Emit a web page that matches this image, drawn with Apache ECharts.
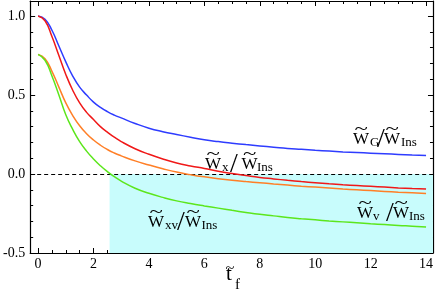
<!DOCTYPE html>
<html>
<head>
<meta charset="utf-8">
<script src="https://cdn.jsdelivr.net/npm/echarts@6/dist/echarts.min.js"></script>
<style>html,body{margin:0;padding:0;background:#fff;}#c{width:436px;height:296px;}</style>
</head>
<body>
<div id="c"></div>
<script>
// ---- data ----
var tValues = [0, 0.25, 0.5, 0.75, 1, 1.25, 1.5, 1.75, 2, 2.25, 2.5, 2.75, 3, 3.5, 4, 4.5, 5, 5.5, 6, 6.5, 7, 7.5, 8, 8.5, 9, 9.5, 10, 10.5, 11, 11.5, 12, 12.5, 13, 13.5, 14];
var wG  = [1.0, 0.98, 0.91, 0.81, 0.71, 0.62, 0.55, 0.50, 0.455, 0.422, 0.395, 0.373, 0.355, 0.32, 0.29, 0.268, 0.25, 0.233, 0.217, 0.205, 0.195, 0.186, 0.178, 0.17, 0.162, 0.156, 0.15, 0.145, 0.14, 0.136, 0.132, 0.128, 0.124, 0.12, 0.117];
var wX  = [1.0, 0.97, 0.87, 0.75, 0.63, 0.53, 0.45, 0.39, 0.345, 0.30, 0.265, 0.233, 0.205, 0.16, 0.125, 0.095, 0.07, 0.051, 0.035, 0.018, 0.003, -0.01, -0.022, -0.031, -0.04, -0.048, -0.055, -0.062, -0.068, -0.073, -0.078, -0.083, -0.088, -0.092, -0.095];
var wV  = [0.757, 0.73, 0.65, 0.55, 0.45, 0.37, 0.305, 0.255, 0.215, 0.182, 0.155, 0.133, 0.115, 0.083, 0.057, 0.033, 0.012, -0.004, -0.018, -0.03, -0.04, -0.048, -0.055, -0.063, -0.07, -0.077, -0.083, -0.089, -0.095, -0.1, -0.105, -0.11, -0.115, -0.119, -0.123];
var wXV = [0.757, 0.72, 0.62, 0.50, 0.375, 0.282, 0.205, 0.145, 0.095, 0.052, 0.015, -0.017, -0.045, -0.09, -0.122, -0.148, -0.17, -0.187, -0.202, -0.216, -0.23, -0.243, -0.255, -0.265, -0.275, -0.283, -0.29, -0.297, -0.303, -0.309, -0.315, -0.32, -0.326, -0.33, -0.335];
var shadeStart = 2.58;      // where W_xv crosses zero
var xMajor = [0, 2, 4, 6, 8, 10, 12, 14];
var xMajorLabels = ['0', '2', '4', '6', '8', '10', '12', '14'];
var xMinor = [0, 0.5, 1, 1.5, 2, 2.5, 3, 3.5, 4, 4.5, 5, 5.5, 6, 6.5, 7, 7.5, 8, 8.5, 9, 9.5, 10, 10.5, 11, 11.5, 12, 12.5, 13, 13.5, 14];
var yMajor = [-0.5, 0, 0.5, 1.0];
var yMajorLabels = ['-0.5', '0.0', '0.5', '1.0'];
var yMinor = [-0.5, -0.4, -0.3, -0.2, -0.1, 0, 0.1, 0.2, 0.3, 0.4, 0.5, 0.6, 0.7, 0.8, 0.9, 1.0];
var xMin = -0.286, xMax = 14.25, yMin = -0.5, yMax = 1.095;

// ---- chart ----
var FF = 'Liberation Serif';
function pairs(vals) { return tValues.map(function (t, i) { return [t, vals[i]]; }); }
function labelFrom(values, labels) { return function (v) { for (var i = 0; i < values.length; i++) { if (Math.abs(values[i] - v) < 1e-6) return labels[i]; } return ''; }; }

function xAx(pos, ticks, len, showLine, labels) {
  return {
    type: 'value', position: pos, min: xMin, max: xMax,
    axisLine: { show: showLine, onZero: false, lineStyle: { color: '#000', width: 1.2 } },
    axisTick: { show: true, inside: true, length: len, customValues: ticks, lineStyle: { color: '#000', width: 1 } },
    axisLabel: labels ? { show: true, customValues: xMajor, formatter: labelFrom(xMajor, xMajorLabels), fontFamily: FF, fontSize: 14, color: '#000', margin: 4 } : { show: false },
    splitLine: { show: false }
  };
}
function yAx(pos, ticks, len, showLine, labels) {
  return {
    type: 'value', position: pos, min: yMin, max: yMax,
    axisLine: { show: showLine, onZero: false, lineStyle: { color: '#000', width: 1.2 } },
    axisTick: { show: true, inside: true, length: len, customValues: ticks, lineStyle: { color: '#000', width: 1 } },
    axisLabel: labels ? { show: true, customValues: yMajor, formatter: labelFrom(yMajor, yMajorLabels), fontFamily: FF, fontSize: 14, color: '#000', margin: 5 } : { show: false },
    splitLine: { show: false }
  };
}

// annotation text pieces (real text)
function piece(text, x, baseline, size, extra) {
  var el = { type: 'text', x: x, y: baseline - 0.3375 * size, silent: true, z: 50,
    style: { text: text, fontFamily: FF, fontSize: size, fill: '#000', align: 'left', verticalAlign: 'middle' } };
  if (extra) { for (var k in extra) el[k] = extra[k]; }
  return el;
}
function wTilde(x, b) {
  return [piece('W', x, b, 17), piece('~', x + 1.5, b - 9.5, 17, { scaleX: 1.45 })];
}
function ratioLabel(b, xW, sub, xSub, xSl, xW2, xIns) {
  return [].concat(
    wTilde(xW, b), [piece(sub, xSub, b + 2, 13), piece('/', xSl, b + 4, 28)],
    wTilde(xW2, b), [piece('Ins', xIns, b + 2, 13)]
  );
}
var graphics = [].concat(
  ratioLabel(145, 353, 'G', 370, 377, 384, 401),
  ratioLabel(170, 205, 'x', 222, 230, 241.5, 257),
  ratioLabel(219, 357, 'v', 373, 386, 393, 409),
  ratioLabel(228, 148, 'xv', 165, 177, 185, 201.5),
  [piece('t', 226, 282, 21), piece('~', 225.5, 274, 15, { scaleX: 1.1 }), piece('f', 235, 290, 15)]
);

var chart = echarts.init(document.getElementById('c'), null, { renderer: 'canvas' });
function mk(name, vals, color, extra) {
  var s = { type: 'line', name: name, data: pairs(vals), smooth: 0.5, showSymbol: false, z: 3,
    lineStyle: { color: color, width: 1.5 } };
  if (extra) { for (var j in extra) s[j] = extra[j]; }
  return s;
}
chart.setOption({
  animation: false,
  backgroundColor: '#fff',
  grid: { left: 27, top: 1, right: 2, bottom: 43, containLabel: false },
  xAxis: [xAx('bottom', xMajor, 5, true, true), xAx('bottom', xMinor, 3, false, false), xAx('top', xMajor, 5, true, false), xAx('top', xMinor, 3, false, false)],
  yAxis: [yAx('left', yMajor, 5, true, true), yAx('left', yMinor, 3, false, false), yAx('right', yMajor, 5, true, false), yAx('right', yMinor, 3, false, false)],
  series: [
    mk('WG', wG, '#2e3cff'),
    mk('Wx', wX, '#f01818'),
    mk('Wv', wV, '#ff7f27'),
    mk('Wxv', wXV, '#5ce61c', {
      markArea: { silent: true, z: 1, itemStyle: { color: '#c8fcfc' }, data: [[{ xAxis: shadeStart, yAxis: yMin }, { xAxis: xMax, yAxis: 0 }]] },
      markLine: { silent: true, z: 2, symbol: ['none', 'none'], label: { show: false }, lineStyle: { color: '#000', type: [4, 3], width: 1.2 }, data: [{ yAxis: 0 }] }
    })
  ],
  graphic: graphics
});
</script>
</body>
</html>
